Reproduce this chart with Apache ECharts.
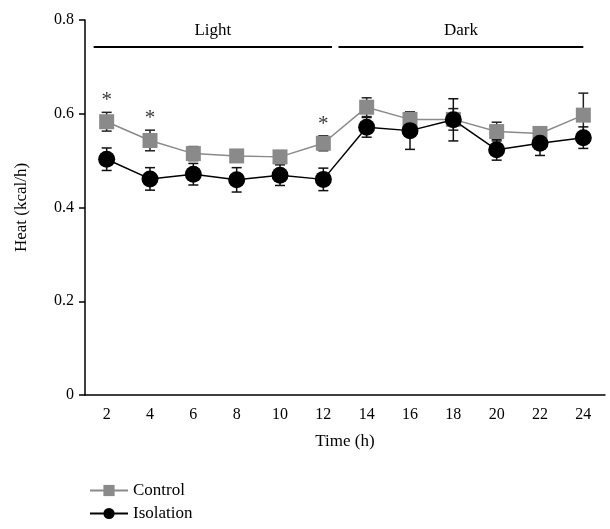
<!DOCTYPE html>
<html>
<head>
<meta charset="utf-8">
<script src="https://cdn.jsdelivr.net/npm/echarts@6/dist/echarts.min.js"></script>
<style>
  html, body { margin: 0; padding: 0; background: #fff; }
  #chart { width: 610px; height: 529px; }
</style>
</head>
<body>
<div id="chart"></div>
<script>
// ========== 数据 ==========
const hours = ["2", "4", "6", "8", "10", "12", "14", "16", "18", "20", "22", "24"];
const controlMean = [0.583, 0.543, 0.515, 0.510, 0.508, 0.537, 0.614, 0.588, 0.588, 0.562, 0.558, 0.597];
const controlErr = [0.020, 0.022, 0.015, 0.010, 0.010, 0.016, 0.020, 0.014, 0.023, 0.020, 0.010, 0.047];
const isolationMean = [0.503, 0.461, 0.471, 0.459, 0.469, 0.460, 0.571, 0.564, 0.587, 0.523, 0.537, 0.549];
const isolationErr = [0.024, 0.024, 0.023, 0.026, 0.022, 0.024, 0.021, 0.040, 0.045, 0.022, 0.026, 0.023];
const sigHours = ["2", "4", "12"];
// 明暗周期横线（小时坐标）
const lightRange = [1.4, 12.4];
const darkRange = [12.7, 24.0];
const phaseLevel = 0.742;

const FONT = "Liberation Serif";

// ========== 误差线 ==========
function errorSeries(name, mean, err, color) {
  return {
    name: name + "-err",
    type: "custom",
    z: 1,
    data: hours.map((h, i) => [i, mean[i] - err[i], mean[i] + err[i]]),
    renderItem: (params, api) => {
      const lo = api.coord([api.value(0), api.value(1)]);
      const hi = api.coord([api.value(0), api.value(2)]);
      const w = 5;
      const style = { stroke: color, lineWidth: 1.5 };
      return {
        type: "group",
        children: [
          { type: "line", shape: { x1: lo[0], y1: lo[1], x2: hi[0], y2: hi[1] }, style },
          { type: "line", shape: { x1: lo[0] - w, y1: lo[1], x2: lo[0] + w, y2: lo[1] }, style },
          { type: "line", shape: { x1: hi[0] - w, y1: hi[1], x2: hi[0] + w, y2: hi[1] }, style },
        ],
      };
    },
  };
}

const chart = echarts.init(document.getElementById("chart"));

chart.setOption({
  animation: false,
  textStyle: { fontFamily: FONT, color: "#000" },
  grid: { left: 85, right: 5, top: 20, bottom: 134 },
  legend: {
    data: ["Control", "Isolation"],
    orient: "vertical",
    left: 84,
    top: 477,
    itemWidth: 38,
    itemHeight: 14,
    itemGap: 6,
    textStyle: { fontFamily: FONT, fontSize: 17, color: "#000" },
  },
  xAxis: [
    {
      type: "category",
      data: hours,
      boundaryGap: true,
      name: "Time (h)",
      nameLocation: "middle",
      nameGap: 38,
      nameTextStyle: { fontFamily: FONT, fontSize: 17, color: "#000" },
      axisLine: { lineStyle: { color: "#000", width: 1.5 } },
      axisTick: { length: 6, lineStyle: { color: "#000", width: 1.5 } },
      axisLabel: { margin: 12, fontFamily: FONT, fontSize: 16, color: "#000" },
    },
    { type: "value", min: 1, max: 25, show: false },
  ],
  yAxis: {
    type: "value",
    min: 0,
    max: 0.8,
    interval: 0.2,
    name: "Heat (kcal/h)",
    nameLocation: "middle",
    nameGap: 55,
    nameTextStyle: { fontFamily: FONT, fontSize: 17, color: "#000" },
    axisLine: { show: true, lineStyle: { color: "#000", width: 1.5 } },
    axisTick: { show: true, length: 6, lineStyle: { color: "#000", width: 1.5 } },
    splitLine: { show: false },
    axisLabel: {
      margin: 11,
      fontFamily: FONT,
      fontSize: 16,
      color: "#000",
      formatter: (v) => (v === 0 ? "0" : v.toFixed(1)),
    },
  },
  series: [
    errorSeries("Control", controlMean, controlErr, "#222"),
    errorSeries("Isolation", isolationMean, isolationErr, "#111"),
    {
      name: "Control",
      type: "line",
      data: controlMean,
      z: 3,
      symbol: "rect",
      symbolSize: 15,
      itemStyle: { color: "#8a8a8a" },
      lineStyle: { color: "#8a8a8a", width: 1.5 },
    },
    {
      name: "Isolation",
      type: "line",
      data: isolationMean,
      z: 4,
      symbol: "circle",
      symbolSize: 17,
      itemStyle: { color: "#000" },
      lineStyle: { color: "#000", width: 1.5 },
    },
    {
      name: "sig",
      type: "scatter",
      z: 5,
      symbolSize: 0,
      data: sigHours.map((h) => {
        const i = hours.indexOf(h);
        return [i, controlMean[i] + controlErr[i]];
      }),
      label: {
        show: true,
        position: "top",
        distance: 1,
        formatter: "*",
        fontFamily: FONT,
        fontSize: 21,
        color: "#000",
      },
    },
    {
      name: "phase",
      type: "line",
      xAxisIndex: 1,
      data: [],
      markLine: {
        silent: true,
        symbol: "none",
        lineStyle: { color: "#000", width: 2, type: "solid" },
        label: {
          show: true,
          position: "middle",
          distance: 8,
          formatter: "{b}",
          fontFamily: FONT,
          fontSize: 17,
          color: "#000",
        },
        data: [
          [
            { name: "Light", coord: [lightRange[0], phaseLevel] },
            { coord: [lightRange[1], phaseLevel] },
          ],
          [
            { name: "Dark", coord: [darkRange[0], phaseLevel] },
            { coord: [darkRange[1], phaseLevel] },
          ],
        ],
      },
    },
  ],
});

window.addEventListener("resize", () => chart.resize());
</script>
</body>
</html>
